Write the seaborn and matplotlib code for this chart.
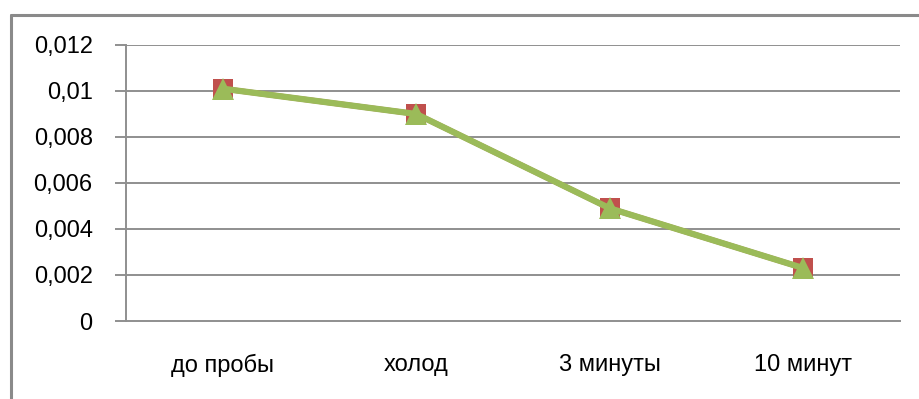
import matplotlib
matplotlib.use("Agg")
import matplotlib.pyplot as plt
from matplotlib.lines import Line2D
import seaborn as sns
import pandas as pd

categories = ["до пробы", "холод", "3 минуты", "10 минут"]
series_red = [0.0101, 0.0090, 0.0049, 0.0023]
series_green = [0.0101, 0.0090, 0.0049, 0.0023]
y_ticks = [0, 0.002, 0.004, 0.006, 0.008, 0.010, 0.012]
y_labels = ["0", "0,002", "0,004", "0,006", "0,008", "0,01", "0,012"]

sns.set_theme(style="white")
plt.rcParams["font.family"] = ["Liberation Sans", "DejaVu Sans"]

df = pd.DataFrame({
    "pos": list(range(len(categories))) * 2,
    "value": series_red + series_green,
    "series": ["red"] * len(categories) + ["green"] * len(categories),
})

fig = plt.figure(figsize=(9.2, 3.99), dpi=100)
fig.patch.set_facecolor("white")
ax = fig.add_axes([126 / 920, 1 - 321 / 399, (900 - 126) / 920, (321 - 45) / 399])

grid_color = "#8f8f8f"
for y in y_ticks[1:]:
    ax.axhline(y, color=grid_color, lw=1.4, zorder=0)

red = df[df.series == "red"]
green = df[df.series == "green"]
sns.lineplot(data=red, x="pos", y="value", ax=ax, color="#C0504D", lw=4.0,
             marker="s", markersize=15, markeredgewidth=0, zorder=3)
sns.lineplot(data=green, x="pos", y="value", ax=ax, color="#9BBB59", lw=4.5,
             marker="^", markersize=16, markeredgewidth=0, zorder=4)

ax.set_xlim(-0.5, len(categories) - 0.5)
ax.set_ylim(0, 0.012)
ax.set_xticks(range(len(categories)))
ax.set_xticklabels(categories, fontsize=17, color="#000000")
ax.set_xticks([i - 0.5 for i in range(len(categories) + 1)], minor=True)
ax.tick_params(axis="x", which="major", length=0, pad=24)
ax.tick_params(axis="x", which="minor", length=8, width=1.4, color=grid_color, direction="out")
ax.set_yticks(y_ticks)
ax.set_yticklabels(y_labels, fontsize=17, color="#000000")
ax.tick_params(axis="y", length=8, width=1.4, color=grid_color, direction="out", pad=16, left=True)
ax.set_xlabel("")
ax.set_ylabel("")
for side in ["top", "right"]:
    ax.spines[side].set_visible(False)
for side in ["left", "bottom"]:
    ax.spines[side].set_color(grid_color)
    ax.spines[side].set_linewidth(1.4)
ax.set_facecolor("white")

# outer frame: left and top edges of the chart area
frame_color = "#8a8a8a"
fig.add_artist(Line2D([11 / 920, 11 / 920], [0, 1 - 15 / 399], transform=fig.transFigure,
                      color=frame_color, lw=2.2))
fig.add_artist(Line2D([11 / 920, 1], [1 - 15 / 399, 1 - 15 / 399], transform=fig.transFigure,
                      color=frame_color, lw=2.2))

fig.savefig("out.png", dpi=100, facecolor="white")
